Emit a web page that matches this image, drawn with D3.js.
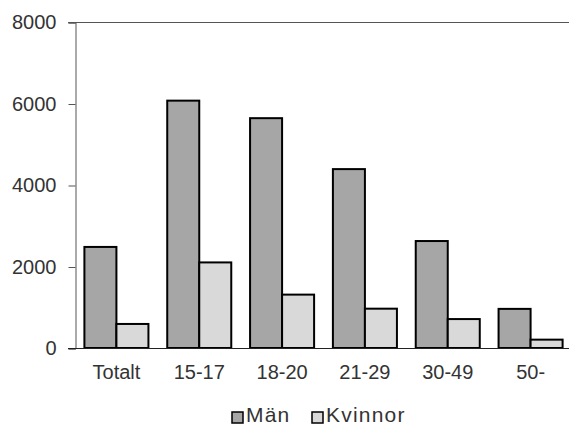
<!DOCTYPE html>
<html><head><meta charset="utf-8">
<script src="https://cdn.jsdelivr.net/npm/d3@7/dist/d3.min.js"></script>
<style>body{margin:0;background:#fff}svg{display:block;font-family:"Liberation Sans",Arial,sans-serif}</style>
</head><body><svg id="c" width="569" height="427"></svg>
<script>
const categories = ["Totalt","15-17","18-20","21-29","30-49","50-"];
const series = ["Män","Kvinnor"];
const man = [2480,6070,5640,4390,2625,960];
const kvinnor = [590,2100,1310,965,710,205];
const yTicks = [0,2000,4000,6000,8000];
const colors = ["#a6a6a6","#d9d9d9"];

const svg = d3.select("#c");
const x0 = 75, x1 = 572, yTop = 22, yBot = 348;
const x = d3.scaleBand().domain(categories).range([x0,x1]).paddingInner(0.227).paddingOuter(0.1135);
const xs = d3.scaleBand().domain(series).range([0,x.bandwidth()]);
const y = d3.scaleLinear().domain([0,8000]).range([yBot,yTop]);

svg.append("line").attr("x1",68).attr("x2",569).attr("y1",yTop+0.5).attr("y2",yTop+0.5).attr("stroke","#555");

const yAxis = d3.axisLeft(y).tickValues(yTicks).tickSize(7).tickPadding(12).tickFormat(d3.format("d"));
const gy = svg.append("g").attr("transform",`translate(${x0+0.5},0.5)`).call(yAxis);
gy.select(".domain").attr("stroke","#555");
gy.selectAll(".tick line").attr("stroke","#555");
gy.selectAll("text").attr("font-size",20).attr("fill","#333").attr("font-family","Liberation Sans, Arial, sans-serif");

const vals = [man,kvinnor];
const groups = svg.append("g");
series.forEach((s,si)=>{
  groups.selectAll(null).data(categories).enter().append("rect")
    .attr("x",d=>x(d)+xs(s))
    .attr("width",xs.bandwidth())
    .attr("y",(d,i)=>y(vals[si][i]))
    .attr("height",(d,i)=>yBot-y(vals[si][i]))
    .attr("fill",colors[si]).attr("stroke","#000").attr("stroke-width",2);
});

const xAxis = d3.axisBottom(x).tickSize(0).tickPadding(16);
const gx = svg.append("g").attr("transform",`translate(0,${yBot+0.5})`).call(xAxis);
gx.select(".domain").remove();
svg.append("line").attr("x1",68).attr("x2",569).attr("y1",yBot+0.5).attr("y2",yBot+0.5).attr("stroke","#222");
gx.selectAll("text").attr("font-size",20).attr("fill","#333").attr("font-family","Liberation Sans, Arial, sans-serif");

const legendX = [232,312];
const lg = svg.append("g");
series.forEach((s,i)=>{
  lg.append("rect").attr("x",legendX[i]).attr("y",412).attr("width",11).attr("height",11)
    .attr("fill",colors[i]).attr("stroke","#000").attr("stroke-width",1.5);
  lg.append("text").attr("x",legendX[i]+14).attr("y",422).attr("font-size",21)
    .attr("letter-spacing",1.2).attr("fill","#333").text(s);
});
</script></body></html>
